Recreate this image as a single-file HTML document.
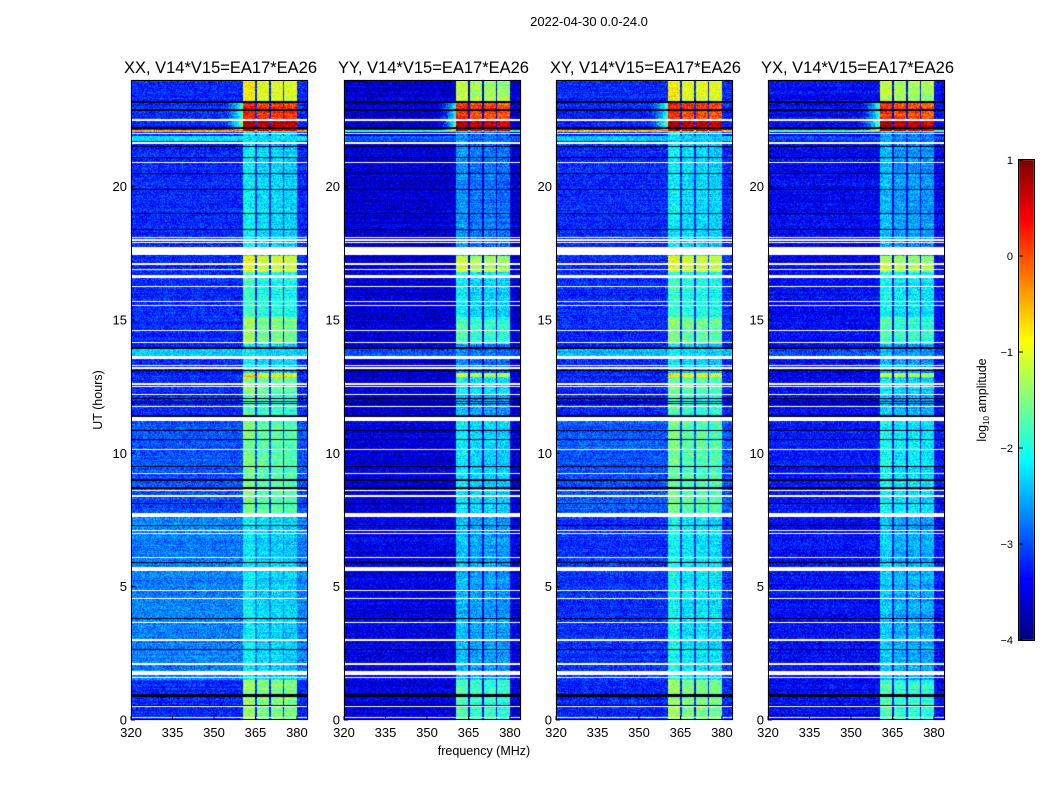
<!DOCTYPE html>
<html><head><meta charset="utf-8"><style>
body{margin:0;background:#fff;width:1050px;height:800px;overflow:hidden;font-family:"Liberation Sans","DejaVu Sans",sans-serif;}
#wrap{position:relative;width:1050px;height:800px;}
</style></head><body>
<div id="wrap">
<canvas id="cv" width="1050" height="800" style="position:absolute;left:0;top:0"></canvas>
<svg id="sv" width="1050" height="800" style="position:absolute;left:0;top:0"></svg>
</div>
<script>
// ---- data ----
const panelTitles = ["XX, V14*V15=EA17*EA26","YY, V14*V15=EA17*EA26","XY, V14*V15=EA17*EA26","YX, V14*V15=EA17*EA26"];
const segT = [0,1.5,7.7,11.2,12.2,12.85,13.0,14.1,15.1,16.8,17.4,21.5,22.1,22.5,23.2,24];
const bgXX = [-3.2,-2.75,-3.0,-3.2,-3.2,-3.2,-3.2,-3.2,-3.2,-3.2,-3.2,-3.2,-3.2,-3.2,-3.2];
const bgYY = [-3.55,-3.5,-3.55,-3.6,-3.6,-3.6,-3.6,-3.6,-3.6,-3.6,-3.6,-3.6,-3.6,-3.6,-3.6];
const bgXY = [-3.2,-3.15,-2.95,-3.2,-3.2,-3.2,-3.2,-3.2,-3.2,-3.2,-3.2,-3.2,-3.2,-3.2,-3.2];
const bgYX = [-3.4,-3.35,-3.3,-3.4,-3.4,-3.4,-3.4,-3.4,-3.4,-3.4,-3.4,-3.4,-3.4,-3.4,-3.4];
const rfiXX = [-1.5,-2.3,-1.7,-1.9,-1.6,-0.8,-2.3,-1.5,-2.0,-1.1,-2.3,-2.4,0.7,0.1,-1.0];
const rfiYY = [-1.9,-2.6,-2.3,-2.6,-2.3,-1.2,-2.8,-1.9,-2.3,-1.3,-2.8,-2.9,0.6,0.0,-1.3];
const rfiXY = [-1.5,-2.2,-1.7,-1.9,-1.7,-0.9,-2.3,-1.6,-2.0,-1.1,-2.3,-2.4,0.7,0.1,-1.0];
const rfiYX = [-1.9,-2.5,-2.2,-2.5,-2.3,-1.2,-2.6,-1.9,-2.2,-1.3,-2.6,-2.7,0.6,0.0,-1.3];
const rfiBandsMHz = [[360.5,365],[365.5,370],[370.5,375],[375.5,380]];
const broadbandEvents = [[21.7,21.9],[13.65,13.9],[22.05,22.12]];
const broadbandXX = [-2.3,-2.4,-0.5];
const broadbandYY = [-3.0,-3.0,-1.9];
const broadbandXY = [-2.4,-2.5,-0.6];
const broadbandYX = [-3.0,-3.0,-1.8];
const flagRows = [[22.45,22.55],[21.97,22.03],[21.6,21.68],[20.87,20.93],[18.07,18.12],[17.97,18.02],[17.87,17.92],[17.45,17.72],[17.08,17.12],[16.88,16.92],[16.58,16.7],[16.23,16.27],[15.68,15.72],[15.53,15.57],[14.58,14.62],[14.13,14.17],[13.52,13.65],[13.28,13.32],[13.18,13.22],[12.58,12.62],[12.48,12.52],[12.18,12.22],[11.73,11.77],[11.22,11.35],[10.13,10.17],[9.23,9.27],[8.58,8.62],[8.38,8.42],[7.63,7.75],[7.08,7.12],[6.98,7.02],[6.08,6.12],[5.6,5.75],[4.83,4.87],[4.53,4.57],[3.63,3.67],[2.98,3.02],[2.08,2.12],[1.7,1.82],[1.58,1.62],[0.48,0.52],[0.08,0.12]];
const darkRows = [[23.15,23.2],[22.85,22.9],[22.17,22.24],[21.48,21.52],[21.08,21.12],[20.48,20.52],[19.88,19.92],[18.98,19.02],[18.38,18.42],[13.93,13.97],[13.08,13.12],[12.02,12.06],[11.93,11.96],[11.84,11.87],[11.38,11.42],[10.84,10.87],[10.49,10.52],[9.48,9.52],[8.98,9.02],[8.68,8.72],[8.09,8.12],[7.29,7.32],[5.89,5.92],[3.79,3.82],[2.64,2.67],[0.87,0.99],[0.54,0.57]];
const yTicks = [0,5,10,15,20];
const xTicks = [320,335,350,365,380];
const cbTicks = [1,0,-1,-2,-3,-4];

// ---- layout ----
const panelsX = [131,344,556,768];
const PW=177, PT=80, PB=720;
const F0=320, F1=384, T0=0, T1=24;
const fx = (f,i)=>panelsX[i]+(f-F0)/(F1-F0)*PW;
const ty = t=>PB-(t-T0)/(T1-T0)*(PB-PT);
const CB={x:1019,w:15,top:160,bot:640,min:-4,max:1};
const cby = v=>CB.bot-(v-CB.min)/(CB.max-CB.min)*(CB.bot-CB.top);

function jet(x){x=Math.max(0,Math.min(1,x));const c=v=>Math.round(255*Math.max(0,Math.min(1,v)));return [c(1.5-Math.abs(4*x-3)),c(1.5-Math.abs(4*x-2)),c(1.5-Math.abs(4*x-1))];}
function hash(a,b){let h=(a*374761393+b*668265263)|0;h=(h^(h>>>13))*1274126177|0;return ((h^(h>>>16))>>>0)/4294967296;}

const bgs=[bgXX,bgYY,bgXY,bgYX], rfis=[rfiXX,rfiYY,rfiXY,rfiYX], bbs=[broadbandXX,broadbandYY,broadbandXY,broadbandYX];
const cv=document.getElementById('cv'), ctx=cv.getContext('2d');
const img=ctx.createImageData(1050,800);
function seg(t){for(let k=0;k<segT.length-1;k++){if(t>=segT[k]&&t<segT[k+1])return k;}return segT.length-2;}
function inR(t,arr){for(let k=0;k<arr.length;k++){if(t>=arr[k][0]&&t<=arr[k][1])return k;}return -1;}
for(let p=0;p<4;p++){
  const x0=Math.round(fx(F0,p)), x1=Math.round(fx(F1,p));
  for(let y=PT;y<PB;y++){
    const t=T0+(PB-y-0.5)/(PB-PT)*(T1-T0);
    const s=seg(t);
    const rowN=(hash(y,p*7+3)-0.5)*0.25;
    const isFlag=inR(t,flagRows)>=0, isDark=inR(t,darkRows)>=0, bb=inR(t,broadbandEvents);
    for(let x=x0;x<x1;x++){
      const f=F0+(x+0.5-fx(F0,p))/PW*(F1-F0);
      let col;
      if(isFlag){col=[255,255,255];}
      else if(isDark){col=[0,0,20];}
      else{
        let v=bgs[p][s];
        if(bb>=0) v=bbs[p][bb];
        let bi=-1;for(let b=0;b<rfiBandsMHz.length;b++){if(f>=rfiBandsMHz[b][0]&&f<rfiBandsMHz[b][1])bi=b;}
        if(bi>=0){v=Math.max(v,rfis[p][s]+(bi===0?0.15:0)-(bi===3?0.05:0));}
        else if(segT[s]>=22.1&&segT[s]<23.2&&f>352&&f<360.5){v=v+Math.pow((f-352)/8.5,2)*(rfis[p][s]-v)*0.45;}
        v+=rowN+(hash(x*13+p,y*31)-0.5)*0.75;
        col=jet((v-CB.min)/(CB.max-CB.min));
      }
      const i=(y*1050+x)*4;img.data[i]=col[0];img.data[i+1]=col[1];img.data[i+2]=col[2];img.data[i+3]=255;
    }
  }
}
// colorbar
for(let y=CB.top;y<CB.bot;y++){const v=CB.min+(CB.bot-y-0.5)/(CB.bot-CB.top)*(CB.max-CB.min);const c=jet((v-CB.min)/(CB.max-CB.min));
  for(let x=CB.x;x<CB.x+CB.w;x++){const i=(y*1050+x)*4;img.data[i]=c[0];img.data[i+1]=c[1];img.data[i+2]=c[2];img.data[i+3]=255;}}
for(let i=0;i<img.data.length;i+=4){if(img.data[i+3]===0){img.data[i]=img.data[i+1]=img.data[i+2]=255;img.data[i+3]=255;}}
ctx.putImageData(img,0,0);

// ---- SVG overlay ----
const NS="http://www.w3.org/2000/svg", sv=document.getElementById('sv');
function mk(tag,attrs,txt){const e=document.createElementNS(NS,tag);for(const k in attrs)e.setAttribute(k,attrs[k]);if(txt!==undefined)e.textContent=txt;sv.appendChild(e);return e;}
let e=mk('text',{x:589,y:26,'text-anchor':'middle','font-size':13,fill:'#000'},'2022-04-30 0.0-24.0');


for(let p=0;p<4;p++){
  const x0=fx(F0,p);
  e=mk('rect',{x:x0+0.5,y:PT+0.5,width:PW-1,height:PB-PT-1,fill:'none',stroke:'#000','stroke-width':1});
  
  
  e=mk('text',{x:x0+PW/2+1,y:73,'text-anchor':'middle','font-size':16.5,fill:'#000'},panelTitles[p]);
  
  
  yTicks.forEach(v=>{const y=ty(v);
    e=mk('line',{x1:x0,x2:x0+4,y1:y,y2:y,stroke:'#000'});
    
    
    e=mk('text',{x:x0-4,y:y+4.5,'text-anchor':'end','font-size':13,fill:'#000'},String(v));
    
    });
  xTicks.forEach(v=>{const x=fx(v,p);
    e=mk('line',{x1:x,x2:x,y1:PB,y2:PB-4,stroke:'#000'});
    
    
    e=mk('text',{x:x,y:PB+17,'text-anchor':'middle','font-size':13,fill:'#000'},String(v));
    
    });
}
e=mk('text',{x:484,y:755,'text-anchor':'middle','font-size':12.5,fill:'#000'},'frequency (MHz)');


e=mk('text',{x:102,y:400,'text-anchor':'middle','font-size':12.5,fill:'#000',transform:'rotate(-90 102 400)'},'UT (hours)');


e=mk('rect',{x:CB.x-0.5,y:CB.top-0.5,width:CB.w+1,height:CB.bot-CB.top+1,fill:'none',stroke:'#000'});


cbTicks.forEach(v=>{const y=cby(v);
  e=mk('line',{x1:CB.x,x2:CB.x+4,y1:y,y2:y,stroke:'#000'});
  
  
  e=mk('text',{x:1013,y:y+4,'text-anchor':'end','font-size':11,fill:'#000'},v<0?'\u2212'+Math.abs(v):String(v));
  
  });
e=mk('text',{x:986,y:400,'text-anchor':'middle','font-size':12.5,fill:'#000',transform:'rotate(-90 986 400)'});
e.innerHTML='log<tspan font-size="8" dy="3">10</tspan><tspan dy="-3"> amplitude</tspan>';


</script>
</body></html>
